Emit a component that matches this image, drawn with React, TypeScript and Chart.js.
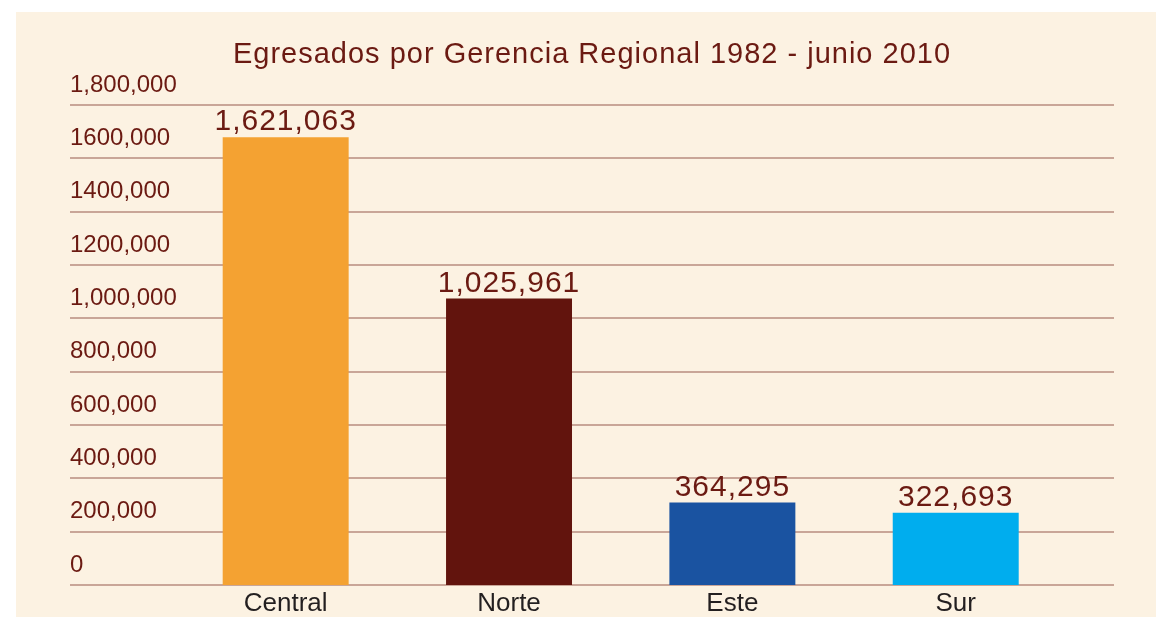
import React, { useEffect, useRef } from "react";
import { Chart, registerables } from "chart.js";

Chart.register(...registerables);

const TITLE = "Egresados por Gerencia Regional 1982 - junio 2010";
const categories = ["Central", "Norte", "Este", "Sur"];
// bar heights as drawn in the picture
const barValues = [1679000, 1074000, 309000, 271000];
// printed value labels
const valueLabels = ["1,621,063", "1,025,961", "364,295", "322,693"];
const barColors = ["#F4A232", "#62140D", "#1A53A1", "#00ADEE"];
const yTickValues = [0, 200000, 400000, 600000, 800000, 1000000, 1200000, 1400000, 1600000, 1800000];
const yTickLabels = ["0", "200,000", "400,000", "600,000", "800,000", "1,000,000", "1200,000", "1400,000", "1600,000", "1,800,000"];

const DARK_RED = "#6B1A12";
const GRID = "#C9A698";
const BG = "#FCF2E2";
const FONT = "'Liberation Sans', Arial, Helvetica, sans-serif";

export default function App() {
  const ref = useRef<HTMLCanvasElement | null>(null);

  useEffect(() => {
    if (!ref.current) return;
    const decor = {
      id: "decor",
      beforeDatasetsDraw(chart: any) {
        const ctx = chart.ctx;
        const y = chart.scales.y;
        ctx.save();
        ctx.strokeStyle = GRID;
        ctx.lineWidth = 2;
        yTickValues.forEach((v) => {
          const py = Math.round(y.getPixelForValue(v));
          ctx.beginPath();
          ctx.moveTo(54, py);
          ctx.lineTo(1098, py);
          ctx.stroke();
        });
        ctx.restore();
      },
      afterDatasetsDraw(chart: any) {
        const ctx = chart.ctx;
        ctx.save();
        ctx.fillStyle = DARK_RED;
        ctx.textAlign = "center";
        ctx.textBaseline = "alphabetic";
        // title
        ctx.font = `29px ${FONT}`;
        try {
          (ctx as any).letterSpacing = "1px";
        } catch (e) {}
        ctx.fillText(TITLE, 576, 51);
        // value labels
        ctx.font = `30px ${FONT}`;
        const meta = chart.getDatasetMeta(0);
        meta.data.forEach((el: any, i: number) => {
          ctx.fillText(valueLabels[i], el.x, el.y - 7);
        });
        ctx.restore();
      },
    };

    const chart = new Chart(ref.current, {
      type: "bar",
      data: {
        labels: categories,
        datasets: [
          {
            data: barValues,
            backgroundColor: barColors,
            borderWidth: 0,
            barPercentage: 0.564,
            categoryPercentage: 1,
          },
        ],
      },
      options: {
        responsive: false,
        animation: false,
        devicePixelRatio: 1,
        layout: { padding: { left: 54, right: 88.6, top: 93, bottom: 0 } },
        plugins: {
          legend: { display: false },
          tooltip: { enabled: false },
          title: { display: false },
        },
        scales: {
          x: {
            grid: { display: false, drawTicks: false },
            border: { display: false },
            ticks: {
              color: "#231F20",
              font: { family: FONT, size: 26 },
              padding: 3,
              maxRotation: 0,
            },
            afterFit: (s: any) => {
              s.height = 32;
            },
          },
          y: {
            min: 0,
            max: 1800000,
            grid: { display: false, drawTicks: false },
            border: { display: false },
            afterFit: (s: any) => {
              s.width = 104;
            },
            ticks: {
              stepSize: 200000,
              color: DARK_RED,
              font: { family: FONT, size: 24 },
              mirror: true,
              crossAlign: "near",
              labelOffset: -20,
              padding: -104,
              callback: (v: any) => {
                const i = yTickValues.indexOf(Number(v));
                return i >= 0 ? yTickLabels[i] : "";
              },
            },
          },
        },
      },
      plugins: [decor],
    } as any);
    return () => chart.destroy();
  }, []);

  return (
    <div
      style={{
        position: "absolute",
        left: 16,
        top: 12,
        width: 1140,
        height: 605,
        background: BG,
      }}
    >
      <canvas ref={ref} width={1140} height={605} style={{ display: "block" }} />
    </div>
  );
}
